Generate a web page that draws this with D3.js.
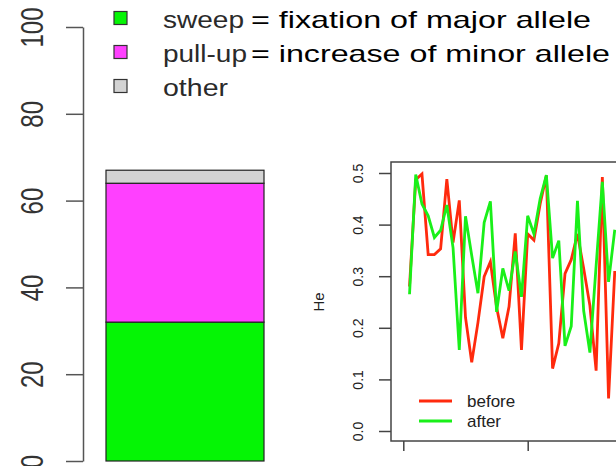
<!DOCTYPE html>
<html>
<head>
<meta charset="utf-8">
<script src="https://cdn.jsdelivr.net/npm/d3@7"></script>
<style>
  body { margin: 0; background: #fff; }
  svg { display: block; font-family: "Liberation Sans", Arial, sans-serif; }
</style>
</head>
<body>
<svg class="d3-content" width="616" height="466"></svg>
<script>
// stacked bar (percent of loci)
const classes = ['sweep', 'pull-up', 'other']
const classValues = [32, 32, 3]
const classColors = ['#05f505', '#ff40ff', '#d3d3d3']
const classNotes = ['= fixation of major allele', '= increase of minor allele', '']
const leftTicks = [0, 20, 40, 60, 80, 100]

// He per locus, before / after
const loci = d3.range(1, 35)
const heBefore = [0.28, 0.487, 0.498, 0.342, 0.342, 0.353, 0.488, 0.365, 0.447, 0.22,
  0.133, 0.21, 0.299, 0.328, 0.24, 0.18, 0.241, 0.383, 0.157, 0.382,
  0.37, 0.44, 0.495, 0.121, 0.17, 0.305, 0.332, 0.382, 0.315, 0.243,
  0.117, 0.492, 0.063, 0.31]
const heAfter = [0.265, 0.497, 0.44, 0.417, 0.375, 0.389, 0.438, 0.355, 0.157, 0.416,
  0.34, 0.267, 0.404, 0.445, 0.231, 0.315, 0.272, 0.348, 0.26, 0.417,
  0.382, 0.45, 0.496, 0.335, 0.369, 0.165, 0.203, 0.446, 0.233, 0.152,
  0.32, 0.483, 0.289, 0.39]
const heTicks = [0, 0.1, 0.2, 0.3, 0.4, 0.5]
const indexTicks = [0, 20, 40]
const seriesNames = ['before', 'after']
const seriesColors = ['#ff2a0d', '#19f019']

const svg = d3.select('.d3-content')
const stretch = 1.3

const createBar = () => {
  const y = d3.scaleLinear().domain([0, 100]).range([461, 27])
  const x = d3.scaleBand().domain(['all']).range([106, 264])

  const axis = d3.axisLeft(y).tickValues(leftTicks).tickSize(17).tickSizeOuter(0)
  const g = svg.append('g')
    .attr('transform', 'translate(83,0)')
    .call(axis)
  g.select('.domain').attr('stroke', '#555').attr('stroke-width', 1.5)
  g.selectAll('.tick line').attr('stroke', '#555').attr('stroke-width', 1.5)
  g.selectAll('.tick text')
    .attr('x', 0).attr('y', -31).attr('dy', 0)
    .attr('text-anchor', 'middle')
    .attr('transform', `scale(${stretch},1) rotate(-90)`)
    .attr('fill', '#333')
    .style('font-size', '24px')

  let acc = 0
  const stacked = classValues.map(v => { const s = {y0: acc, y1: acc + v}; acc += v; return s })
  svg.append('g')
    .selectAll('rect')
    .data(stacked)
    .enter()
    .append('rect')
    .attr('x', x('all'))
    .attr('width', x.bandwidth())
    .attr('y', d => y(d.y1))
    .attr('height', d => y(d.y0) - y(d.y1))
    .attr('fill', (_, i) => classColors[i])
    .attr('stroke', '#222')
    .attr('stroke-width', 1.2)
}

const createBarLegend = () => {
  const rowY = d3.scaleLinear().domain([0, 1]).range([18, 52])
  const nameWidths = [81, 84, 65]
  const noteWidths = [340, 359, 0]
  const g = svg.append('g')
  classes.forEach((c, i) => {
    g.append('rect')
      .attr('x', 114).attr('y', rowY(i) - 6.5)
      .attr('width', 13).attr('height', 13)
      .attr('fill', classColors[i])
      .attr('stroke', '#333').attr('stroke-width', 1.2)
    g.append('text')
      .attr('x', 163).attr('y', rowY(i) + 10)
      .attr('textLength', nameWidths[i])
      .attr('lengthAdjust', 'spacingAndGlyphs')
      .style('font-size', '23px')
      .attr('fill', '#2a2a2a')
      .text(c)
    if (classNotes[i]) {
      g.append('text')
        .attr('x', 251).attr('y', rowY(i) + 10)
        .attr('textLength', noteWidths[i])
        .attr('lengthAdjust', 'spacingAndGlyphs')
        .style('font-size', '24px')
        .attr('fill', '#000')
        .text(classNotes[i])
    }
  })
}

const createLines = () => {
  const x = d3.scaleLinear().domain([0, 20]).range([403.3, 527.7])
  const y = d3.scaleLinear().domain([0, 0.5]).range([431, 173])

  // plot box
  svg.append('rect')
    .attr('x', 391).attr('y', 162)
    .attr('width', 400).attr('height', 279)
    .attr('fill', 'none')
    .attr('stroke', '#444').attr('stroke-width', 1.5)

  const yAxis = d3.axisLeft(y).tickValues(heTicks).tickSize(12).tickFormat(d3.format('.1f'))
  const gy = svg.append('g').attr('transform', 'translate(391,0)').call(yAxis)
  gy.select('.domain').remove()
  gy.selectAll('.tick line').attr('stroke', '#444').attr('stroke-width', 1.5)
  gy.selectAll('.tick text')
    .attr('x', 0).attr('y', -28).attr('dy', 0)
    .attr('text-anchor', 'middle')
    .attr('transform', 'rotate(-90)')
    .attr('fill', '#222')
    .style('font-size', '14px')

  const xAxis = d3.axisBottom(x).tickValues(indexTicks).tickSize(10).tickFormat('')
  const gx = svg.append('g').attr('transform', 'translate(0,441)').call(xAxis)
  gx.select('.domain').remove()
  gx.selectAll('.tick line').attr('stroke', '#444').attr('stroke-width', 1.5)

  svg.append('text')
    .attr('transform', 'translate(324,302) rotate(-90)')
    .attr('text-anchor', 'middle')
    .style('font-size', '15px')
    .attr('fill', '#222')
    .text('He')

  const line = d3.line().x((d, i) => x(loci[i])).y(d => y(d))
  ;[heBefore, heAfter].forEach((s, k) => {
    svg.append('path')
      .datum(s)
      .attr('d', line)
      .attr('fill', 'none')
      .attr('stroke', seriesColors[k])
      .attr('stroke-width', 2.8)
      .attr('stroke-linejoin', 'miter')
  })

  // legend
  const ly = d3.scaleLinear().domain([0, 1]).range([401, 421])
  seriesNames.forEach((n, k) => {
    svg.append('line')
      .attr('x1', 419).attr('x2', 452)
      .attr('y1', ly(k)).attr('y2', ly(k))
      .attr('stroke', seriesColors[k]).attr('stroke-width', 2.8)
    svg.append('text')
      .attr('x', 467).attr('y', ly(k) + 6)
      .style('font-size', '17px')
      .attr('fill', '#222')
      .text(n)
  })
}

createBar()
createBarLegend()
createLines()
</script>
</body>
</html>
